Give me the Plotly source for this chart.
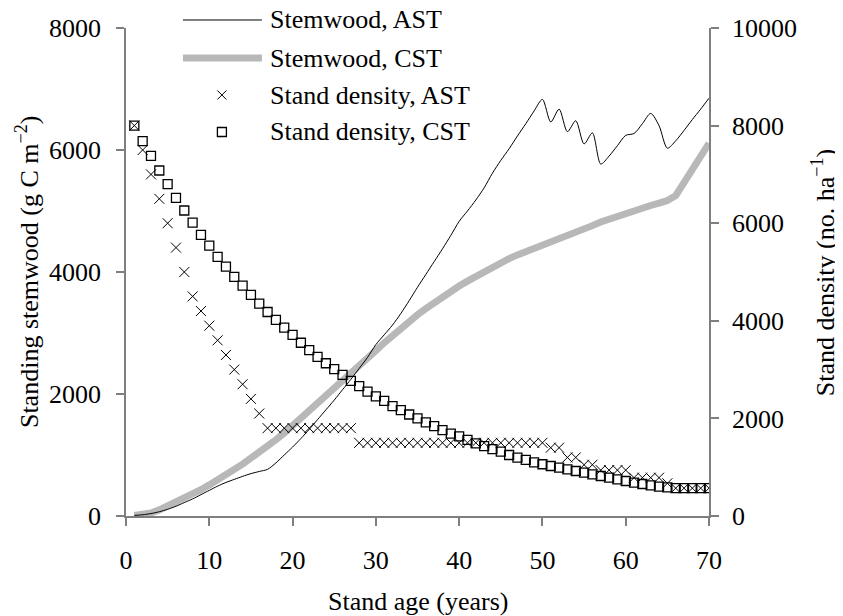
import plotly.graph_objects as go

# stand age (years)
ages = list(range(1, 71))

# standing stemwood (g C m-2)
stem_ast = [10, 20, 40, 70, 110, 160, 220, 280, 350, 420,
            490, 550, 600, 650, 695, 730, 765, 870, 1000, 1130,
            1270, 1420, 1580, 1740, 1900, 2070, 2240, 2420, 2600, 2810,
            2970, 3130, 3320, 3530, 3750, 3960, 4170, 4380, 4600, 4830,
            5000, 5180, 5380, 5620, 5830, 6020, 6230, 6430, 6640, 6830,
            6460, 6670, 6300, 6480, 6100, 6280, 5770, 5900, 6070, 6240,
            6270, 6430, 6600, 6400, 6030, 6150, 6320, 6500, 6670, 6850]
stem_cst = [10, 20, 50, 100, 160, 220, 290, 360, 430, 510,
            590, 670, 760, 850, 950, 1040, 1140, 1250, 1360, 1480,
            1600, 1720, 1850, 1970, 2100, 2220, 2340, 2460, 2590, 2710,
            2840, 2960, 3070, 3180, 3300, 3400, 3500, 3590, 3680, 3770,
            3850, 3930, 4010, 4080, 4150, 4220, 4280, 4330, 4380, 4430,
            4480, 4530, 4580, 4640, 4700, 4760, 4820, 4870, 4920, 4970,
            5010, 5050, 5090, 5130, 5170, 5250, 5460, 5680, 5890, 6110]

# stand density (no. ha-1)
dens_ast = ([8000, 7500, 7000, 6500, 6000, 5500, 5000, 4500, 4200, 3900,
             3600, 3300, 3000, 2700, 2400, 2100]
            + [1800] * 11 + [1500] * 23
            + [1400, 1400, 1200, 1200, 1050, 1050]
            + [940] * 4 + [785] * 4 + [670] + [570] * 5)
dens_cst = [8000, 7680, 7380, 7080, 6800, 6520, 6260, 6010, 5760, 5540,
            5310, 5110, 4900, 4720, 4530, 4350, 4180, 4020, 3860, 3710,
            3550, 3400, 3260, 3130, 3010, 2890, 2770, 2660, 2550, 2450,
            2360, 2250, 2170, 2080, 2000, 1920, 1840, 1760, 1690, 1630,
            1560, 1490, 1430, 1370, 1320, 1250, 1195, 1150, 1100, 1060,
            1025, 990, 957, 922, 888, 854, 820, 785, 752, 717,
            683, 656, 629, 600, 588, 570, 570, 570, 570, 570]

legend_names = ["Stemwood, AST", "Stemwood, CST",
                "Stand density, AST", "Stand density, CST"]

FONT = "Liberation Serif, Times New Roman, serif"
AXIS = "#7f7f7f"
GREY = "#b8b8b8"

fig = go.Figure()
fig.add_trace(go.Scatter(x=ages, y=stem_cst, mode="lines",
                         line=dict(color=GREY, width=7)))
fig.add_trace(go.Scatter(x=ages, y=stem_ast, mode="lines",
                         line=dict(color="black", width=1, shape="spline", smoothing=0.8)))
fig.add_trace(go.Scatter(x=ages, y=dens_cst, mode="markers", yaxis="y2",
                         marker=dict(symbol="square-open", size=9,
                                     color="black", line=dict(width=1.3))))
fig.add_trace(go.Scatter(x=ages, y=dens_ast, mode="markers", yaxis="y2",
                         marker=dict(symbol="x-thin-open", size=10,
                                     color="black", line=dict(width=1, color="black"))))

# hand-drawn legend (long swatches as in the original)
rows = [1.0164, 0.9385, 0.8627, 0.7869]
shapes = [
    dict(type="line", xref="paper", yref="paper", x0=0.0977, x1=0.2331,
         y0=rows[0], y1=rows[0], line=dict(color="black", width=1)),
    dict(type="line", xref="paper", yref="paper", x0=0.0977, x1=0.2331,
         y0=rows[1], y1=rows[1], line=dict(color=GREY, width=7)),
]
for d in (1, -1):
    shapes.append(dict(type="line", xref="paper", yref="paper",
                       xsizemode="pixel", ysizemode="pixel",
                       xanchor=0.1645, yanchor=rows[2],
                       x0=-4.5, x1=4.5, y0=-4.5 * d, y1=4.5 * d,
                       line=dict(color="black", width=1)))
shapes.append(dict(type="rect", xref="paper", yref="paper",
                   xsizemode="pixel", ysizemode="pixel",
                   xanchor=0.1645, yanchor=rows[3],
                   x0=-4.5, x1=4.5, y0=-4.5, y1=4.5,
                   line=dict(color="black", width=1.3)))

annotations = [
    dict(text=name, x=0.2434, y=r, xref="paper", yref="paper",
         xanchor="left", yanchor="middle", showarrow=False)
    for name, r in zip(legend_names, rows)
]
annotations += [
    dict(text="Standing stemwood (g C m<sup>\u22122</sup>)", x=-0.1697, y=0.5,
         xref="paper", yref="paper", textangle=-90, showarrow=False,
         xanchor="center", yanchor="middle"),
    dict(text="Stand density (no. ha<sup>\u22121</sup>)", x=1.196, y=0.5,
         xref="paper", yref="paper", textangle=-90, showarrow=False,
         xanchor="center", yanchor="middle"),
    dict(text="Stand age (years)", x=0.5, y=-0.176, xref="paper", yref="paper",
         showarrow=False, xanchor="center", yanchor="middle"),
]

axis_common = dict(showgrid=False, zeroline=False, showline=True, linecolor=AXIS,
                   linewidth=1.5, tickcolor=AXIS, tickwidth=1.5, ticklen=8,
                   automargin=False, tickformat="d",
                   tickfont=dict(family=FONT, size=26, color="black"))

# page body has an 8px margin, so the figure is 8px smaller than the window
fig.update_layout(
    width=835, height=608,
    margin=dict(l=118, r=133.5, t=20, b=100),
    plot_bgcolor="white", paper_bgcolor="white",
    showlegend=False,
    font=dict(family=FONT, size=26, color="black"),
    xaxis=dict(range=[0, 70], dtick=10, ticks="outside",
               ticklabelstandoff=12, **axis_common),
    yaxis=dict(range=[0, 8000], dtick=2000, ticks="outside",
               ticklabelstandoff=10, **axis_common),
    yaxis2=dict(range=[0, 10000], dtick=2000, ticks="outside", side="right",
                overlaying="y", anchor="x", ticklabelstandoff=8, **axis_common),
    yaxis3=dict(range=[0, 10000], dtick=2000, ticks="inside", side="right",
                overlaying="y", anchor="x", showticklabels=False, showgrid=False,
                zeroline=False, showline=False, tickcolor=AXIS, tickwidth=1.5,
                ticklen=7, automargin=False),
    shapes=shapes,
    annotations=annotations,
)

fig.write_html("out.html")
